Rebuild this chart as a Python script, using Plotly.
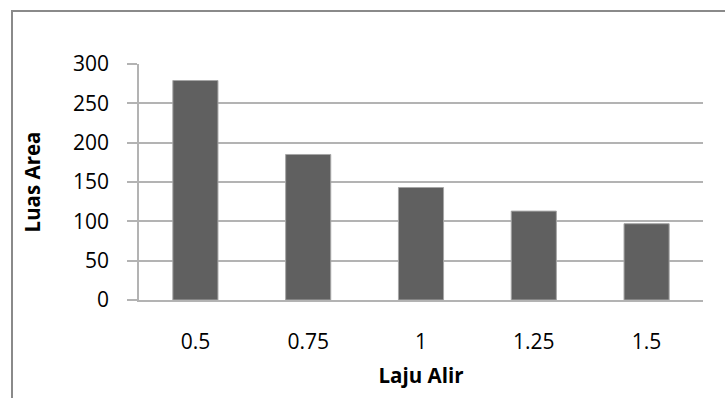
import plotly.graph_objects as go

categories = ["0.5", "0.75", "1", "1.25", "1.5"]
luas_area = [279, 185, 143, 113, 97]
y_ticks = [0, 50, 100, 150, 200, 250, 300]

FONT = "Open Sans"
GRID = "#b3b3b3"

fig = go.Figure()
fig.add_trace(go.Bar(
    x=categories, y=luas_area,
    marker=dict(color="#606060", line=dict(color="#a6a6a6", width=1)),
))

fig.update_layout(
    width=725, height=398,
    margin=dict(l=139, r=22, t=64, b=98),
    paper_bgcolor="white", plot_bgcolor="white",
    bargap=0.6, showlegend=False,
    font=dict(family=FONT, size=21, color="#000000"),
    xaxis=dict(
        type="category", showgrid=False, showline=True, linecolor=GRID, linewidth=1.5,
        ticks="outside", ticklen=22, tickcolor="rgba(0,0,0,0)",
        tickfont=dict(family=FONT, size=21),
        title=dict(text="<b>Laju Alir</b>", font=dict(family=FONT, size=20.5), standoff=15),
    ),
    yaxis=dict(
        range=[0, 300], tickvals=y_ticks, showgrid=True, gridcolor=GRID, gridwidth=1.5,
        zeroline=False, showline=True, linecolor=GRID, linewidth=1.5,
        ticks="outside", ticklen=10, tickcolor=GRID, tickwidth=1.5,
        ticklabelstandoff=14,
        tickfont=dict(family=FONT, size=21),
        title=dict(text="<b>Luas Area</b>", font=dict(family=FONT, size=20.5), standoff=27),
    ),
    shapes=[dict(
        type="rect", xref="paper", yref="paper",
        x0=(12 - 139) / 564, x1=1.2, y0=-0.6, y1=1 + (64 - 11) / 236,
        line=dict(color="#8a8a8a", width=2), fillcolor="rgba(0,0,0,0)", layer="below",
    )],
)

fig.write_html("out.html")
